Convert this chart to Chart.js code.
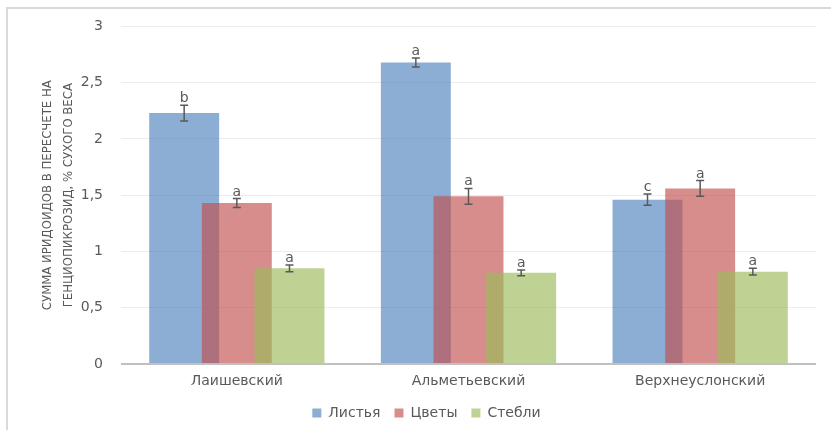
<!DOCTYPE html>
<html><head><meta charset="utf-8">
<script src="https://cdn.jsdelivr.net/npm/chart.js@4.4.1/dist/chart.umd.min.js"></script>
<style>
html,body{margin:0;padding:0;background:#fff;}
#wrap{position:relative;width:831px;height:430px;}
#frame{position:absolute;left:6px;top:7px;right:0;bottom:0;border-left:2px solid #d9d9d9;border-top:2px solid #d9d9d9;pointer-events:none;}
</style></head><body>
<div id="wrap"><canvas id="c" width="831" height="430"></canvas><div id="frame"></div></div>
<script>
const categories = ['Лаишевский', 'Альметьевский', 'Верхнеуслонский'];
const seriesNames = ['Листья', 'Цветы', 'Стебли'];
const leaves = [2.23, 2.68, 1.46];
const flowers = [1.43, 1.49, 1.56];
const stems = [0.85, 0.81, 0.82];
const leavesErr = [0.07, 0.04, 0.05];
const flowersErr = [0.04, 0.07, 0.07];
const stemsErr = [0.03, 0.025, 0.03];
const leavesLetters = ['b', 'a', 'c'];
const flowersLetters = ['a', 'a', 'a'];
const stemsLetters = ['a', 'a', 'a'];
const yTitle = ['СУММА ИРИДОИДОВ В ПЕРЕСЧЕТЕ НА', 'ГЕНЦИОПИКРОЗИД, % СУХОГО ВЕСА'];
const yMin = 0, yMax = 3, yStep = 0.5;

const TEXT = '#595959';
const FONT = '"DejaVu Sans", sans-serif';

const overlayPlugin = {
  id: 'overlay',
  beforeDatasetsDraw(chart) {
    const ctx = chart.ctx;
    for (let i = 0; i < chart.data.datasets.length; i++) {
      const meta = chart.getDatasetMeta(i);
      if (!meta.hidden) meta.controller.draw();
    }
    const y = chart.scales.y;
    ctx.save();
    ctx.strokeStyle = TEXT; ctx.lineWidth = 1.5;
    ctx.fillStyle = TEXT; ctx.font = '14px ' + FONT;
    ctx.textAlign = 'center'; ctx.textBaseline = 'alphabetic';
    chart.data.datasets.forEach((ds, i) => {
      const meta = chart.getDatasetMeta(i);
      meta.data.forEach((bar, j) => {
        const v = ds.data[j], e = ds.errors[j];
        const yt = y.getPixelForValue(v + e), yb = y.getPixelForValue(v - e);
        const x = bar.x;
        ctx.beginPath();
        ctx.moveTo(x, yt); ctx.lineTo(x, yb);
        ctx.moveTo(x - 4, yt); ctx.lineTo(x + 4, yt);
        ctx.moveTo(x - 4, yb); ctx.lineTo(x + 4, yb);
        ctx.stroke();
        ctx.fillText(ds.letters[j], x, yt - 3);
      });
    });
    ctx.restore();
    return false;
  }
};

new Chart(document.getElementById('c'), {
  type: 'bar',
  data: {
    labels: categories,
    datasets: [
      { label: seriesNames[0], data: leaves, errors: leavesErr, letters: leavesLetters, backgroundColor: 'rgba(79,129,189,0.65)' },
      { label: seriesNames[1], data: flowers, errors: flowersErr, letters: flowersLetters, backgroundColor: 'rgba(192,80,77,0.65)' },
      { label: seriesNames[2], data: stems, errors: stemsErr, letters: stemsLetters, backgroundColor: 'rgba(155,187,89,0.65)' }
    ]
  },
  options: {
    responsive: false,
    animation: false,
    categoryPercentage: 0.682,
    barPercentage: 1.328,
    layout: { padding: { left: 22, right: 0, top: 24, bottom: 0 } },
    plugins: {
      tooltip: { enabled: false },
      legend: {
        position: 'bottom',
        labels: { boxWidth: 9, boxHeight: 9, padding: 14, color: TEXT, font: { family: FONT, size: 14 } }
      }
    },
    scales: {
      x: {
        grid: { display: false },
        border: { display: false },
        afterFit(scale) { scale.height = 28; },
        ticks: { color: TEXT, padding: 1, font: { family: FONT, size: 14 } }
      },
      y: {
        min: yMin, max: yMax,
        afterFit(scale) { scale.width = 99; },
        border: { display: false },
        grid: {
          drawTicks: false,
          color: c => c.tick && c.tick.value === 0 ? '#c0c0c0' : '#ececec',
          lineWidth: c => c.tick && c.tick.value === 0 ? 2 : 1
        },
        ticks: {
          stepSize: yStep, padding: 18, color: TEXT, font: { family: FONT, size: 14 },
          callback: v => String(v).replace('.', ',')
        },
        title: {
          display: true, text: yTitle, color: TEXT,
          padding: { top: 15, bottom: 0 },
          font: { family: '"Liberation Sans Narrow", "DejaVu Sans Condensed", sans-serif', size: 13, lineHeight: 1.615 }
        }
      },
      yRight: {
        position: 'right',
        display: true,
        grid: { display: false },
        border: { display: false },
        ticks: { display: false },
        afterFit(scale) { scale.width = 15; }
      }
    }
  },
  plugins: [overlayPlugin]
});
</script>
</body></html>
